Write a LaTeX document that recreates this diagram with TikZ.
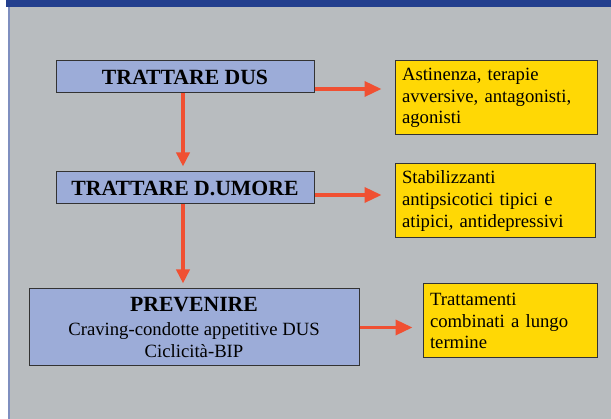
\documentclass[tikz,border=0pt]{standalone}
\usepackage{fontspec}
\setmainfont{Liberation Serif}
\usetikzlibrary{arrows.meta}
\definecolor{bg}{HTML}{B8BCBF}
\definecolor{band}{HTML}{233F8E}
\definecolor{edge}{HTML}{7F8FBF}
\definecolor{boxblue}{HTML}{9CACD8}
\definecolor{boxyellow}{HTML}{FFD805}
\definecolor{arrowred}{HTML}{F05032}
\tikzset{
  bluebox/.style={draw=black!80, line width=1pt, fill=boxblue, inner sep=0pt, align=center},
  yellowbox/.style={draw=black!80, line width=1pt, fill=boxyellow, inner xsep=7pt, inner ysep=0pt, align=left,
     font=\fontsize{18.7}{21.7}\selectfont},
  bigtitle/.style={font=\fontsize{21.7}{24}\selectfont\bfseries},
  redarrow/.style={draw=arrowred, line width=3.5pt, -{Triangle[length=17pt,width=15pt]}},
  redarrowv/.style={draw=arrowred, line width=3.5pt, -{Triangle[length=14pt,width=13pt]}}
}
\begin{document}
\begin{tikzpicture}[x=1pt,y=-1pt]
\useasboundingbox (0,0) rectangle (611,419);
\fill[white] (0,0) rectangle (611,419);
\fill[bg] (9,7) rectangle (611,419);
\fill[band] (6,0) rectangle (611,7);
\draw[edge, line width=1.5pt] (8.75,7) -- (8.75,419);

\node[bluebox, bigtitle, minimum width=258pt, minimum height=32pt] (d1) at (185,77) {TRATTARE DUS};
\node[bluebox, bigtitle, minimum width=258pt, minimum height=32pt] (d2) at (185,188) {TRATTARE D.UMORE};
\node[bluebox, minimum width=330pt, minimum height=77pt, font=\fontsize{18.7}{21.7}\selectfont] (d3) at (194,327.5)
  {{\fontsize{21.7}{24}\selectfont\bfseries PREVENIRE}\\[2.3pt]
   Craving-condotte appetitive DUS\\
   Ciclicità-BIP};

\node[yellowbox, text width=188pt, minimum height=74pt] (a1) at (496,98)
  {Astinenza, terapie\\avversive, antagonisti,\\agonisti};
\node[yellowbox, text width=186pt, minimum height=74pt] (a2) at (495,201)
  {Stabilizzanti\\antipsicotici tipici e\\atipici, antidepressivi};
\node[yellowbox, text width=160pt, minimum height=74pt] (a3) at (510,321)
  {Trattamenti\\combinati a lungo\\termine};

\coordinate (s1) at ([yshift=-12pt]d1.east);
\coordinate (s2) at ([yshift=-7pt]d2.east);
\coordinate (s3) at (d3.east);
\draw[redarrow, shorten >=13pt] (s1) -- (s1 -| a1.west);
\draw[redarrow, shorten >=13pt] (s2) -- (s2 -| a2.west);
\draw[redarrow, shorten >=10pt] (s3) -- (s3 -| a3.west);

\coordinate (v1) at ([xshift=-2pt]d1.south);
\coordinate (v2) at ([xshift=-2pt]d2.south);
\draw[redarrowv, shorten >=5pt] (v1) -- (v1 |- d2.north);
\draw[redarrowv, shorten >=5pt] (v2) -- (v2 |- d3.north);
\end{tikzpicture}
\end{document}
